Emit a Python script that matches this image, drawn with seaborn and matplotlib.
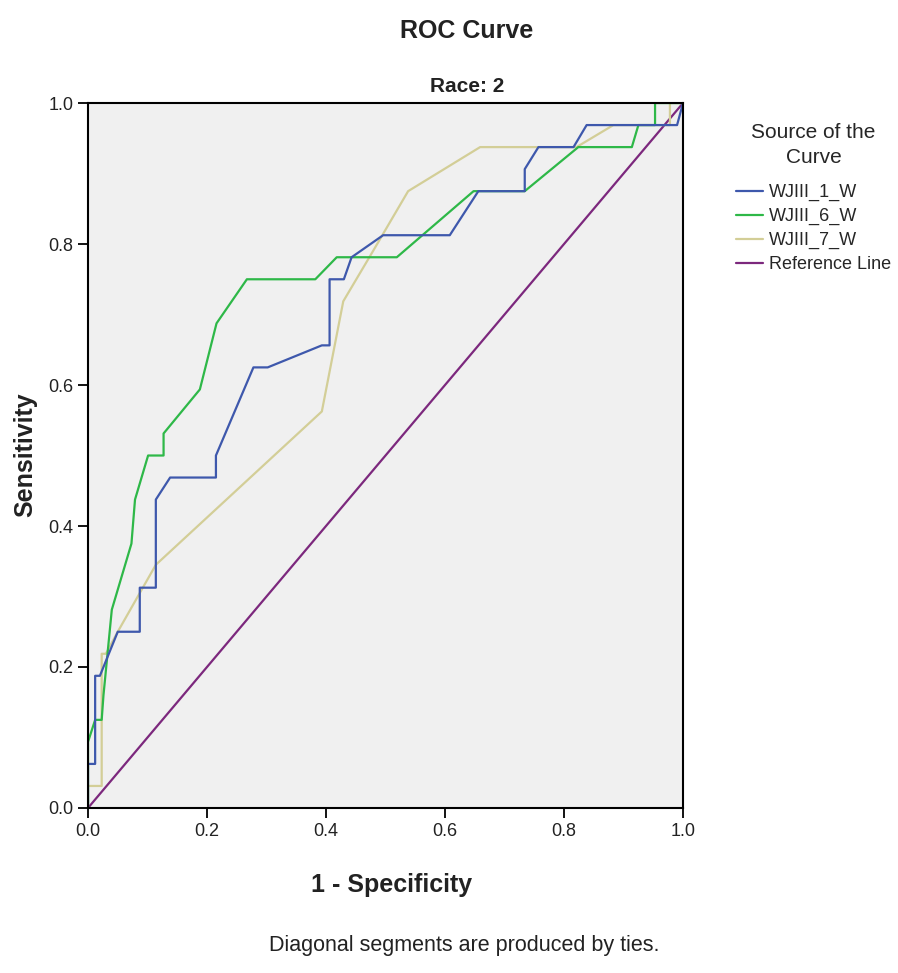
import numpy as np
import pandas as pd
import matplotlib
matplotlib.use("Agg")
import matplotlib.pyplot as plt
from matplotlib.lines import Line2D
import seaborn as sns

# ROC curve points (1 - specificity, sensitivity)
wj1_fpr = [0.0, 0.0, 0.012, 0.012, 0.02, 0.05, 0.087, 0.087, 0.114, 0.114, 0.138, 0.215, 0.215,
           0.278, 0.302, 0.393, 0.406, 0.406, 0.43, 0.443, 0.496, 0.608, 0.656, 0.734, 0.734,
           0.757, 0.816, 0.838, 0.99, 0.99, 1.0]
wj1_tpr = [0.0, 0.0625, 0.0625, 0.1875, 0.1875, 0.25, 0.25, 0.3125, 0.3125, 0.4375, 0.46875,
           0.46875, 0.5, 0.625, 0.625, 0.65625, 0.65625, 0.75, 0.75, 0.78125, 0.8125, 0.8125,
           0.875, 0.875, 0.90625, 0.9375, 0.9375, 0.96875, 0.96875, 0.96875, 1.0]

wj6_fpr = [0.0, 0.0, 0.012, 0.023, 0.026, 0.04, 0.073, 0.079, 0.101, 0.127, 0.127, 0.188, 0.216,
           0.267, 0.382, 0.418, 0.519, 0.648, 0.734, 0.824, 0.914, 0.925, 0.953, 0.953, 1.0]
wj6_tpr = [0.0, 0.09375, 0.125, 0.125, 0.16, 0.28125, 0.375, 0.4375, 0.5, 0.5, 0.53125, 0.59375,
           0.6875, 0.75, 0.75, 0.78125, 0.78125, 0.875, 0.875, 0.9375, 0.9375, 0.96875, 0.96875,
           1.0, 1.0]

wj7_fpr = [0.0, 0.0, 0.023, 0.023, 0.03, 0.05, 0.114, 0.393, 0.429, 0.479, 0.538, 0.659, 0.821,
           0.883, 0.978, 0.978, 1.0]
wj7_tpr = [0.0, 0.03125, 0.03125, 0.21875, 0.21875, 0.25, 0.345, 0.5625, 0.71875, 0.79, 0.875,
           0.9375, 0.9375, 0.96875, 0.96875, 1.0, 1.0]

ref_fpr = [0.0, 1.0]
ref_tpr = [0.0, 1.0]

series_names = ["WJIII_1_W", "WJIII_6_W", "WJIII_7_W", "Reference Line"]
series_colors = ["#3e58ac", "#2eb848", "#d3ce97", "#7c287d"]

frames = []
for name, fx, ty in zip(series_names,
                        [wj1_fpr, wj6_fpr, wj7_fpr, ref_fpr],
                        [wj1_tpr, wj6_tpr, wj7_tpr, ref_tpr]):
    frames.append(pd.DataFrame({"fpr": fx, "tpr": ty, "source": name}))
df = pd.concat(frames, ignore_index=True)

sns.set_style("white")
plt.rcParams["font.family"] = ["Liberation Sans", "DejaVu Sans"]

fig = plt.figure(figsize=(8.98, 9.73), dpi=100)
ax = fig.add_axes([0.098, 0.1696, 0.6626, 0.7245])
ax.set_facecolor("#f0f0f0")

# reference line first so the curves sit on top
for name, col in zip(series_names[::-1], series_colors[::-1]):
    sub = df[df["source"] == name]
    sns.lineplot(data=sub, x="fpr", y="tpr", sort=False, estimator=None,
                 color=col, linewidth=1.6, ax=ax, legend=False)

ticks = np.arange(0, 1.01, 0.2)
ax.set_xlim(0, 1)
ax.set_ylim(0, 1)
ax.set_xticks(ticks)
ax.set_yticks(ticks)
ax.set_xticklabels([f"{v:.1f}" for v in ticks])
ax.set_yticklabels([f"{v:.1f}" for v in ticks])
ax.tick_params(axis="both", direction="out", length=7, width=1.3, color="black",
               labelsize=13, labelcolor="#222222", bottom=True, left=True)
ax.set_xlabel("")
ax.set_ylabel("")
for sp in ax.spines.values():
    sp.set_color("black")
    sp.set_linewidth(1.5)

fig.text(0.52, 1 - 31 / 973, "ROC Curve", ha="center", va="center",
         fontsize=18, fontweight="bold", color="#222222")
fig.text(0.52, 1 - 86 / 973, "Race: 2", ha="center", va="center",
         fontsize=15, fontweight="bold", color="#222222")
fig.text(392 / 898, 1 - 885 / 973, "1 - Specificity", ha="center", va="center",
         fontsize=18, fontweight="bold", color="#222222")
fig.text(25 / 898, 1 - 455 / 973, "Sensitivity", ha="center", va="center", rotation=90,
         fontsize=18, fontweight="bold", color="#222222")
fig.text(464 / 898, 1 - 945 / 973, "Diagonal segments are produced by ties.",
         ha="center", va="center", fontsize=15.5, color="#222222")

handles = [Line2D([0], [0], color=c, linewidth=1.6) for c in series_colors]
leg = fig.legend(handles, series_names, title="Source of the\nCurve",
                 loc="upper left", bbox_to_anchor=(720 / 898, 1 - 107 / 973),
                 frameon=False, fontsize=13, title_fontsize=15,
                 handlelength=1.5, handletextpad=0.3, labelspacing=0.38)
leg._legend_box.align = "center"
leg._legend_box.sep = 12
leg.get_title().set_multialignment("center")
leg.get_title().set_linespacing(1.4)

fig.savefig("out.png", dpi=100)
